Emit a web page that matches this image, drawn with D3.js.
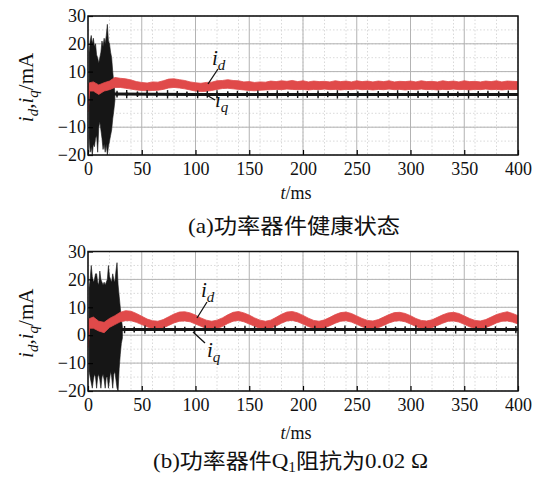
<!DOCTYPE html>
<html><head><meta charset="utf-8">
<script src="https://cdn.jsdelivr.net/npm/d3@7"></script>
<style>body{margin:0;background:#fff}svg{display:block}</style>
</head><body>
<svg id="c" width="542" height="480"></svg>
<script>
// ---------- data ----------
const xTicks = [0, 50, 100, 150, 200, 250, 300, 350, 400];
const yTicks = [-20, -10, 0, 10, 20, 30];

// time grid (ms) for the i_d band
const tGrid = [0, 1.5,
  5, 10, 15, 20, 25, 30, 35, 40, 45,
  50, 55, 60, 65, 70, 75, 80, 85, 90, 95,
  100, 105, 110, 115, 120, 125, 130, 135, 140, 145,
  150, 155, 160, 165, 170, 175, 180, 185, 190, 195,
  200, 205, 210, 215, 220, 225, 230, 235, 240, 245,
  250, 255, 260, 265, 270, 275, 280, 285, 290, 295,
  300, 305, 310, 315, 320, 325, 330, 335, 340, 345,
  350, 355, 360, 365, 370, 375, 380, 385, 390, 395,
  400];

// (a) healthy: i_d band (upper / lower edge, mA)
const idUpperA = [5.5, 6.0,
  6.3, 5.2, 6.0, 6.6, 7.9, 7.6, 7.4, 7.0, 6.4,
  6.1, 5.9, 6.3, 6.2, 6.7, 7.3, 7.4, 7.1, 6.8, 6.3,
  6.0, 5.8, 6.1, 6.2, 6.7, 6.8, 7.1, 6.8, 6.7, 6.3,
  6.4, 6.1, 6.3, 6.2, 6.6, 6.4, 6.7, 6.5, 6.8, 6.4,
  6.7, 6.3, 6.6, 6.4, 6.5, 6.3, 6.7, 6.4, 6.6, 6.3,
  6.7, 6.4, 6.6, 6.3, 6.6, 6.4, 6.7, 6.3, 6.5, 6.4,
  6.6, 6.3, 6.7, 6.4, 6.5, 6.3, 6.7, 6.4, 6.6, 6.3,
  6.7, 6.4, 6.5, 6.3, 6.6, 6.4, 6.7, 6.3, 6.6, 6.5,
  6.4];
const idLowerA = [-4.5, 3.0,
  3.0, 1.8, 3.0, 3.5, 4.3, 4.3, 4.0, 3.7, 3.4,
  3.2, 3.1, 3.2, 3.3, 3.6, 4.1, 4.3, 4.1, 3.8, 3.4,
  3.0, 2.8, 2.9, 3.2, 3.6, 3.9, 4.0, 3.8, 3.6, 3.4,
  3.2, 3.1, 3.3, 3.4, 3.5, 3.6, 3.5, 3.7, 3.6, 3.5,
  3.6, 3.4, 3.6, 3.5, 3.7, 3.5, 3.6, 3.4, 3.6, 3.5,
  3.7, 3.5, 3.6, 3.4, 3.6, 3.5, 3.7, 3.5, 3.6, 3.4,
  3.6, 3.5, 3.7, 3.5, 3.6, 3.4, 3.6, 3.5, 3.7, 3.5,
  3.6, 3.4, 3.6, 3.5, 3.7, 3.5, 3.6, 3.4, 3.6, 3.5,
  3.6];

// (b) Q1 impedance 0.02 ohm: i_d band
const idUpperB = [5.5, 6.0,
  6.5, 5.0, 4.6, 6.0, 7.0, 8.2, 8.8, 8.6, 7.8,
  6.8, 5.8, 5.2, 5.0, 5.6, 6.6, 7.6, 8.3, 8.4, 8.0,
  7.2, 6.2, 5.4, 5.0, 5.4, 6.2, 7.3, 8.2, 8.5, 8.0,
  7.2, 6.2, 5.4, 5.0, 5.4, 6.4, 7.5, 8.3, 8.5, 8.0,
  7.1, 6.1, 5.3, 5.0, 5.5, 6.4, 7.4, 8.1, 8.3, 7.8,
  6.9, 6.0, 5.3, 5.1, 5.6, 6.5, 7.4, 8.1, 8.2, 7.8,
  7.0, 6.0, 5.3, 5.1, 5.5, 6.4, 7.3, 8.0, 8.2, 7.8,
  6.9, 6.0, 5.3, 5.1, 5.6, 6.5, 7.4, 8.0, 8.4, 7.8,
  7.0];
const idLowerB = [-4.5, 2.5,
  2.5, 1.5, 0.9, 2.8, 3.8, 4.8, 5.2, 5.2, 4.6,
  3.8, 3.0, 2.3, 2.1, 2.6, 3.5, 4.4, 5.0, 5.1, 4.8,
  4.0, 3.2, 2.4, 2.0, 2.4, 3.1, 4.2, 5.0, 5.3, 4.8,
  4.0, 3.2, 2.4, 2.0, 2.5, 3.3, 4.3, 5.1, 5.3, 4.8,
  4.0, 3.1, 2.4, 2.2, 2.6, 3.4, 4.3, 5.0, 5.2, 4.7,
  3.9, 3.0, 2.4, 2.3, 2.7, 3.5, 4.4, 5.0, 5.2, 4.8,
  4.0, 3.1, 2.4, 2.3, 2.7, 3.5, 4.3, 5.0, 5.1, 4.7,
  3.9, 3.0, 2.4, 2.3, 2.7, 3.5, 4.4, 5.0, 5.1, 4.7,
  4.0];

// start-up oscillation envelope (i_q), per ms
const tTransA = [1,2,3,4,5,6,7,8,9,10,11,12,13,14,15,16,17,18,19,20,21,22,23,24,25];
const transUpperA = [17,21,23,20,22,19,20,16,15,13,15,17,21,19,22,20,23,27,21,20,17,15,10,6,2.5];
const transLowerA = [-14,-19,-17,-20,-16,-17,-14,-13,-19,-10,-8,-11,-14,-18,-16,-19,-16,-20,-17,-15,-13,-11,-7,-4,-0.5];

const tTransB = [1,2,3,4,5,6,7,8,9,10,11,12,13,14,15,16,17,18,19,20,21,22,23,24,25,26,27,28,29,30,31,32];
const transUpperB = [17,20,25,21,19,20,22,22,19,18,23,20,19,18,19,18,19,20,25,21,20,19,22,20,19,23,26,18,14,10,6,3];
const transLowerB = [-13,-15,-17,-19,-16,-14,-15,-19,-15,-14,-16,-19,-15,-14,-16,-19,-15,-15,-19,-16,-13,-15,-19,-14,-13,-16,-19,-20,-12,-7,-3,-1];

// steady i_q level
const iqTA = [24, 100, 200, 300, 400];
const iqA  = [1.9, 1.8, 1.8, 1.8, 1.8];
const iqTB = [31, 100, 200, 300, 400];
const iqB  = [2.0, 2.0, 2.0, 2.0, 2.0];

// i_q ripple spikes (time, half-height)
const spikeTA = [27,36,46,55,64,74,83,92,102,111,120,130,139,148,158,167,176,186,195,204,214,223,232,242,251,260,270,279,288,298,307,316,326,335,344,354,363,372,382,391];
const spikeAmpA = [1.2,1.5,1.0,1.4,1.1,1.5,1.2,1.0,1.4,1.2,1.5,1.1,1.3,1.0,1.4,1.2,1.5,1.0,1.3,1.2,1.4,1.0,1.5,1.2,1.1,1.4,1.2,1.0,1.5,1.2,1.3,1.1,1.4,1.2,1.0,1.5,1.2,1.3,1.1,1.4];
const spikeTB = [34,43,53,62,71,81,90,99,109,118,127,137,146,155,165,174,183,193,202,211,221,230,239,249,258,267,277,286,295,305,314,323,333,342,351,361,370,379,389,398];
const spikeAmpB = [1.3,1.0,1.5,1.2,1.1,1.4,1.0,1.2,1.5,1.1,1.3,1.0,1.4,1.2,1.1,1.5,1.0,1.3,1.2,1.4,1.1,1.0,1.5,1.2,1.3,1.1,1.4,1.0,1.2,1.5,1.1,1.3,1.0,1.4,1.2,1.1,1.5,1.2,1.0,1.3];

// ---------- drawing ----------
const svg = d3.select("#c");
const SERIF = "'Liberation Serif','Times New Roman',serif";
const CJK = "'Noto Sans CJK SC','Liberation Serif',serif";
const RED = "#e04a4a", BLK = "#161616";

function panel(id, top, bottom, d) {
  const L = 88, R = 518;
  const x = d3.scaleLinear().domain([0, 400]).range([L, R]);
  const y = d3.scaleLinear().domain([-20, 30]).range([bottom, top]);
  const g = svg.append("g");

  g.append("clipPath").attr("id", "clip" + id)
    .append("rect").attr("x", L).attr("y", top).attr("width", R - L).attr("height", bottom - top);

  // minor grid
  g.append("g").selectAll("line").data(x.ticks(16)).join("line")
    .attr("x1", v => x(v)).attr("x2", v => x(v)).attr("y1", top).attr("y2", bottom)
    .attr("stroke", "#cfcfcf").attr("stroke-width", 0.8).attr("stroke-dasharray", "1.5,2");
  g.append("g").selectAll("line").data(y.ticks(10)).join("line")
    .attr("y1", v => y(v)).attr("y2", v => y(v)).attr("x1", L).attr("x2", R)
    .attr("stroke", "#cfcfcf").attr("stroke-width", 0.8).attr("stroke-dasharray", "1.5,2");
  // major grid
  g.append("g").selectAll("line").data(xTicks).join("line")
    .attr("x1", v => x(v)).attr("x2", v => x(v)).attr("y1", top).attr("y2", bottom)
    .attr("stroke", "#b3b3b3").attr("stroke-width", 1);
  g.append("g").selectAll("line").data(yTicks).join("line")
    .attr("y1", v => y(v)).attr("y2", v => y(v)).attr("x1", L).attr("x2", R)
    .attr("stroke", "#b3b3b3").attr("stroke-width", 1);

  const plot = g.append("g").attr("clip-path", `url(#clip${id})`);

  // start-up oscillation
  const tr = d.tT.map((t, i) => ({t, hi: d.tU[i], lo: d.tL[i]}));
  plot.append("path").datum(tr)
    .attr("d", d3.area().x(p => x(p.t)).y0(p => y(p.lo)).y1(p => y(p.hi)))
    .attr("fill", BLK).attr("stroke", BLK).attr("stroke-width", 0.6);

  // i_d band
  const band = tGrid.map((t, i) => ({t, hi: d.idU[i], lo: d.idL[i]}));
  plot.append("path").datum(band)
    .attr("d", d3.area().x(p => x(p.t)).y0(p => y(p.lo)).y1(p => y(p.hi)))
    .attr("fill", RED).attr("stroke", RED).attr("stroke-width", 0.8);

  // i_q steady line
  const iq = d.iqT.map((t, i) => ({t, v: d.iq[i]}));
  plot.append("path").datum(iq)
    .attr("d", d3.line().x(p => x(p.t)).y(p => y(p.v)))
    .attr("fill", "none").attr("stroke", BLK).attr("stroke-width", 3);
  const lvl = d3.scaleLinear().domain(d.iqT).range(d.iq);
  plot.append("g").selectAll("line").data(d.sT.map((t, i) => ({t, a: d.sA[i]}))).join("line")
    .attr("x1", p => x(p.t)).attr("x2", p => x(p.t))
    .attr("y1", p => y(lvl(p.t) + p.a)).attr("y2", p => y(lvl(p.t) - p.a))
    .attr("stroke", BLK).attr("stroke-width", 1.4);
  plot.append("g").selectAll("path").data(d.sT).join("path")
    .attr("d", t => `M${x(t) - 2.2},${y(lvl(t))}L${x(t)},${y(lvl(t)) - 2.4}L${x(t) + 2.2},${y(lvl(t))}L${x(t)},${y(lvl(t)) + 2.4}Z`)
    .attr("fill", BLK);

  // axes (inward ticks)
  const ax = g.append("g").attr("transform", `translate(0,${bottom})`)
    .call(d3.axisBottom(x).tickValues(xTicks).tickSizeInner(-5).tickSizeOuter(0).tickPadding(7));
  const ay = g.append("g").attr("transform", `translate(${L},0)`)
    .call(d3.axisLeft(y).tickValues(yTicks).tickSizeInner(-5).tickSizeOuter(0).tickPadding(2));
  [ax, ay].forEach(a => {
    a.select(".domain").remove();
    a.selectAll("line").attr("stroke", "#000").attr("stroke-width", 1.2);
    a.selectAll("text").attr("font-family", SERIF).attr("font-size", 18).attr("fill", "#111");
  });

  // frame
  g.append("rect").attr("x", L).attr("y", top).attr("width", R - L).attr("height", bottom - top)
    .attr("fill", "none").attr("stroke", "#111").attr("stroke-width", 1.5);

  // y label
  const yl = g.append("text").attr("transform", `translate(33,${(top + bottom) / 2 + 2}) rotate(-90)`)
    .attr("text-anchor", "middle").attr("font-family", SERIF).attr("font-size", 21).attr("fill", "#111");
  yl.append("tspan").attr("font-style", "italic").text("i");
  yl.append("tspan").attr("font-style", "italic").attr("font-size", 15).attr("dy", 5).text("d");
  yl.append("tspan").attr("dy", -5).text(",");
  yl.append("tspan").attr("font-style", "italic").text("i");
  yl.append("tspan").attr("font-style", "italic").attr("font-size", 15).attr("dy", 5).text("q");
  yl.append("tspan").attr("dy", -5).text("/mA");

  // x label
  const xl = g.append("text").attr("x", 296).attr("y", d.xlabY).attr("text-anchor", "middle")
    .attr("font-family", SERIF).attr("font-size", 18).attr("fill", "#111");
  xl.append("tspan").attr("font-style", "italic").text("t");
  xl.append("tspan").text("/ms");

  // annotations
  function ann(tx, ty, sub, lx1, ly1, lx2, ly2) {
    const t = g.append("text").attr("x", tx).attr("y", ty).attr("font-family", SERIF)
      .attr("font-size", 21).attr("font-style", "italic").attr("fill", "#111");
    t.append("tspan").text("i");
    t.append("tspan").attr("font-size", 15).attr("dy", 5).text(sub);
    g.append("line").attr("x1", lx1).attr("y1", ly1).attr("x2", lx2).attr("y2", ly2)
      .attr("stroke", "#111").attr("stroke-width", 1.3);
  }
  d.ann.forEach(a => ann(...a));

  // caption
  const cap = g.append("text").attr("x", d.capX).attr("y", d.capY).attr("fill", "#111")
    .attr("font-size", 21).attr("textLength", d.capLen).attr("lengthAdjust", "spacingAndGlyphs");
  d.cap.forEach(p => {
    const ts = cap.append("tspan").attr("font-family", p.f === "s" ? SERIF : CJK).text(p.s);
    if (p.sub) ts.attr("font-size", 14).attr("dy", 4);
    if (p.up) ts.attr("dy", -4);
  });
}

panel("a", 16, 155, {
  idU: idUpperA, idL: idLowerA, tT: tTransA, tU: transUpperA, tL: transLowerA,
  iqT: iqTA, iq: iqA, sT: spikeTA, sA: spikeAmpA, xlabY: 199,
  ann: [[212, 65, "d", 218, 69, 208, 84], [215, 107, "q", 215, 100, 205, 94]],
  capX: 188, capY: 233, capLen: 212,
  cap: [{f: "s", s: "(a)"}, {f: "c", s: "功率器件健康状态"}]
});
panel("b", 251.5, 391, {
  idU: idUpperB, idL: idLowerB, tT: tTransB, tU: transUpperB, tL: transLowerB,
  iqT: iqTB, iq: iqB, sT: spikeTB, sA: spikeAmpB, xlabY: 439,
  ann: [[201, 297, "d", 207, 302, 197, 318], [207, 357, "q", 205, 343, 193, 332]],
  capX: 153, capY: 468, capLen: 275,
  cap: [{f: "s", s: "(b)"}, {f: "c", s: "功率器件"}, {f: "s", s: "Q"}, {f: "s", s: "1", sub: true},
        {f: "c", s: "阻抗为", up: true}, {f: "s", s: "0.02 Ω"}]
});
</script>
</body></html>
